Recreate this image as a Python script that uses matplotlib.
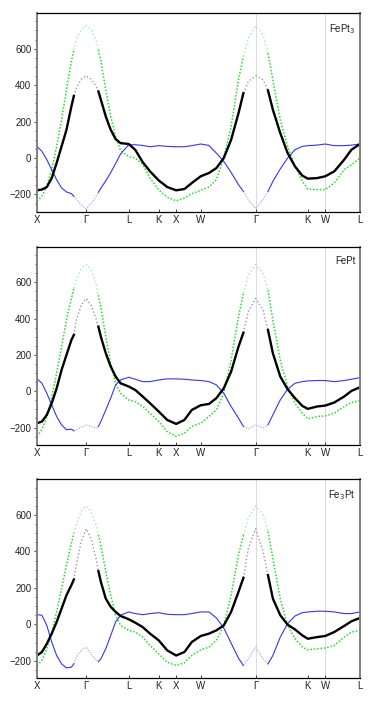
import numpy as np
import matplotlib
matplotlib.use("Agg")
import matplotlib.pyplot as plt
from matplotlib.ticker import MultipleLocator

plt.rcParams['font.family'] = ['Liberation Sans', 'DejaVu Sans']

# path positions along X-G-L-K-X-W-G-K-W-L (units of 2pi/a)
kpos = [0, 1.0, 1.866, 2.478, 2.832, 3.332, 4.450, 5.511, 5.865, 6.572]
klabels = ['X', 'Γ', 'L', 'K', 'X', 'W', 'Γ', 'K', 'W', 'L']

t = [0, 0.1, 0.2, 0.3, 0.4, 0.5, 0.6, 0.7, 0.75, 0.8, 0.9, 1.0,
     1.1, 1.2, 1.25, 1.3, 1.4, 1.5, 1.6, 1.7, 1.866,
     2.0, 2.15, 2.3, 2.478, 2.65, 2.832, 3.0, 3.15, 3.332,
     3.5, 3.65, 3.8, 3.95, 4.1, 4.2, 4.3, 4.45,
     4.6, 4.7, 4.8, 4.95, 5.1, 5.25, 5.4, 5.511,
     5.7, 5.865, 6.05, 6.25, 6.4, 6.572]

names = ['FePt$_3$', 'FePt', 'Fe$_3$Pt']

black_fept3 = [-177, -173, -159, -110, -27, 64, 155, 283, 341, 383, 433, 451,
               433, 396, 365, 320, 228, 155, 104, 82, 77,
               45, -22, -73, -123, -159, -177, -170, -137, -100,
               -82, -55, 0, 100, 246, 356, 420, 451,
               429, 371, 265, 137, 27, -46, -97, -113,
               -110, -100, -73, -9, 46, 77]
blue_fept3 = [64, 37, -9, -64, -119, -164, -186, -195, -210, -225, -256, -278,
              -250, -210, -188, -165, -125, -80, -30, 22, 73,
              73, 69, 62, 68, 64, 62, 62, 68, 77,
              69, 27, -18, -79, -146, -183, -228, -278,
              -228, -183, -128, -60, 0, 46, 64, 68,
              71, 77, 68, 68, 71, 77]
green_fept3 = [-237, -210, -155, -64, 64, 210, 374, 530, 593, 652, 707, 725,
               707, 648, 593, 530, 374, 228, 119, 40, 9,
               0, -35, -110, -175, -215, -235, -220, -195, -177,
               -159, -119, 0, 173, 429, 557, 657, 725,
               676, 575, 429, 210, 64, -46, -128, -170,
               -173, -173, -137, -64, -37, 0]

black_fept = [-176, -167, -130, -66, 16, 117, 200, 282, 310, 392, 474, 511,
              474, 401, 355, 300, 209, 136, 81, 44, 26,
              7, -29, -66, -112, -158, -180, -158, -103, -77,
              -70, -38, 16, 108, 245, 322, 438, 511,
              447, 337, 209, 81, 11, -38, -81, -97,
              -84, -79, -62, -29, 2, 22]
blue_fept = [68, 44, -11, -75, -139, -185, -212, -209, -218, -212, -198, -185,
             -194, -203, -194, -167, -103, -38, 35, 62, 77,
             66, 53, 53, 62, 68, 68, 66, 62, 59,
             53, 35, -11, -84, -148, -194, -207, -185,
             -203, -185, -130, -48, 11, 44, 53, 57,
             59, 59, 53, 59, 66, 75]
green_fept = [-249, -212, -139, -29, 99, 245, 392, 511, 566, 612, 676, 698,
              671, 594, 529, 465, 300, 154, 44, -11, -48,
              -57, -84, -121, -167, -222, -249, -231, -194, -176,
              -139, -103, -11, 172, 410, 539, 639, 698,
              649, 557, 392, 172, 26, -66, -121, -152,
              -139, -136, -121, -84, -62, -51]

black_fe3pt = [-171, -152, -107, -51, 13, 86, 160, 215, 246, 325, 454, 524,
               472, 362, 292, 233, 141, 96, 68, 46, 28,
               9, -15, -51, -88, -143, -171, -152, -97, -64,
               -51, -33, -6, 68, 178, 255, 417, 524,
               399, 270, 141, 50, -2, -28, -61, -79,
               -70, -64, -42, -9, 17, 35]
blue_fe3pt = [53, 50, -6, -97, -171, -217, -239, -235, -217, -180, -143, -125,
              -162, -198, -204, -189, -134, -61, 13, 50, 68,
              59, 53, 59, 64, 55, 53, 53, 59, 68,
              68, 35, -20, -103, -186, -226, -189, -125,
              -189, -217, -171, -70, 4, 46, 64, 68,
              72, 72, 68, 59, 59, 68]
green_fe3pt = [-226, -198, -134, -42, 68, 197, 325, 445, 500, 546, 619, 650,
               619, 546, 490, 435, 288, 160, 50, -6, -33,
               -42, -70, -116, -162, -208, -226, -211, -171, -140,
               -125, -88, -6, 160, 380, 490, 582, 650,
               601, 509, 362, 141, -6, -79, -125, -140,
               -134, -130, -116, -70, -42, -33]

blacks = [black_fept3, black_fept, black_fe3pt]
blues = [blue_fept3, blue_fept, blue_fe3pt]
greens = [green_fept3, green_fept, green_fe3pt]

t = np.array(t)
# region near Gamma drawn faint
near = ((t > 0.75) & (t < 1.25)) | ((t > 4.2) & (t < 4.7))
faint = ((t >= 0.75) & (t <= 1.25)) | ((t >= 4.2) & (t <= 4.7))

fig = plt.figure(figsize=(3.74, 7.05), dpi=100)
boxes = [[0.0989, 0.6993, 0.8636, 0.2823],
         [0.0989, 0.3688, 0.8636, 0.2813],
         [0.0989, 0.0379, 0.8636, 0.2823]]

for i in range(3):
    ax = fig.add_axes(boxes[i])
    for xv in [4.450, 5.865]:
        ax.axvline(xv, color='#dcdcdc', lw=0.7, zorder=0)

    g = np.array(greens[i], dtype=float)
    b = np.array(blues[i], dtype=float)
    k = np.array(blacks[i], dtype=float)

    # faint parts near Gamma
    ax.plot(t, np.where(faint, g, np.nan), color='#9cf09c', lw=1.0, ls=(0, (1, 1.8)))
    ax.plot(t, np.where(faint, b, np.nan), color='#a8a8ff', lw=0.9, ls=(0, (1, 1.2)))
    ax.plot(t, np.where(faint, k, np.nan), color='#999999', lw=1.0, ls=(0, (1, 1.6)))
    # main parts
    ax.plot(t, np.where(near, np.nan, g), color='#22dd22', lw=1.1, ls=(0, (1, 1.2)))
    ax.plot(t, np.where(near, np.nan, b), color='#3535f5', lw=0.8)
    ax.plot(t, np.where(near, np.nan, k), color='black', lw=1.7)

    ax.set_xlim(0, 6.572)
    ax.set_ylim(-296, 796)
    ax.set_xticks(kpos)
    ax.set_xticklabels(klabels)
    ax.set_yticks([-200, 0, 200, 400, 600])
    ax.yaxis.set_minor_locator(MultipleLocator(50))
    ax.tick_params(axis='x', direction='in', length=2.5, width=0.6,
                   labelsize=7, pad=2, colors='#222222')
    ax.tick_params(axis='y', which='major', direction='out', length=2.5,
                   width=0.6, labelsize=7, pad=1.5, colors='#222222')
    ax.tick_params(axis='y', which='minor', direction='out', length=1.2, width=0.5)

    for s in ['left', 'right']:
        ax.spines[s].set_color('#808080')
        ax.spines[s].set_linewidth(1.4)
    for s in ['top', 'bottom']:
        ax.spines[s].set_color('black')
        ax.spines[s].set_linewidth(0.9)

    ax.text(0.985, 0.955, names[i], transform=ax.transAxes, ha='right', va='top',
            fontsize=7, color='#222222')

fig.savefig('out.png', dpi=100)
